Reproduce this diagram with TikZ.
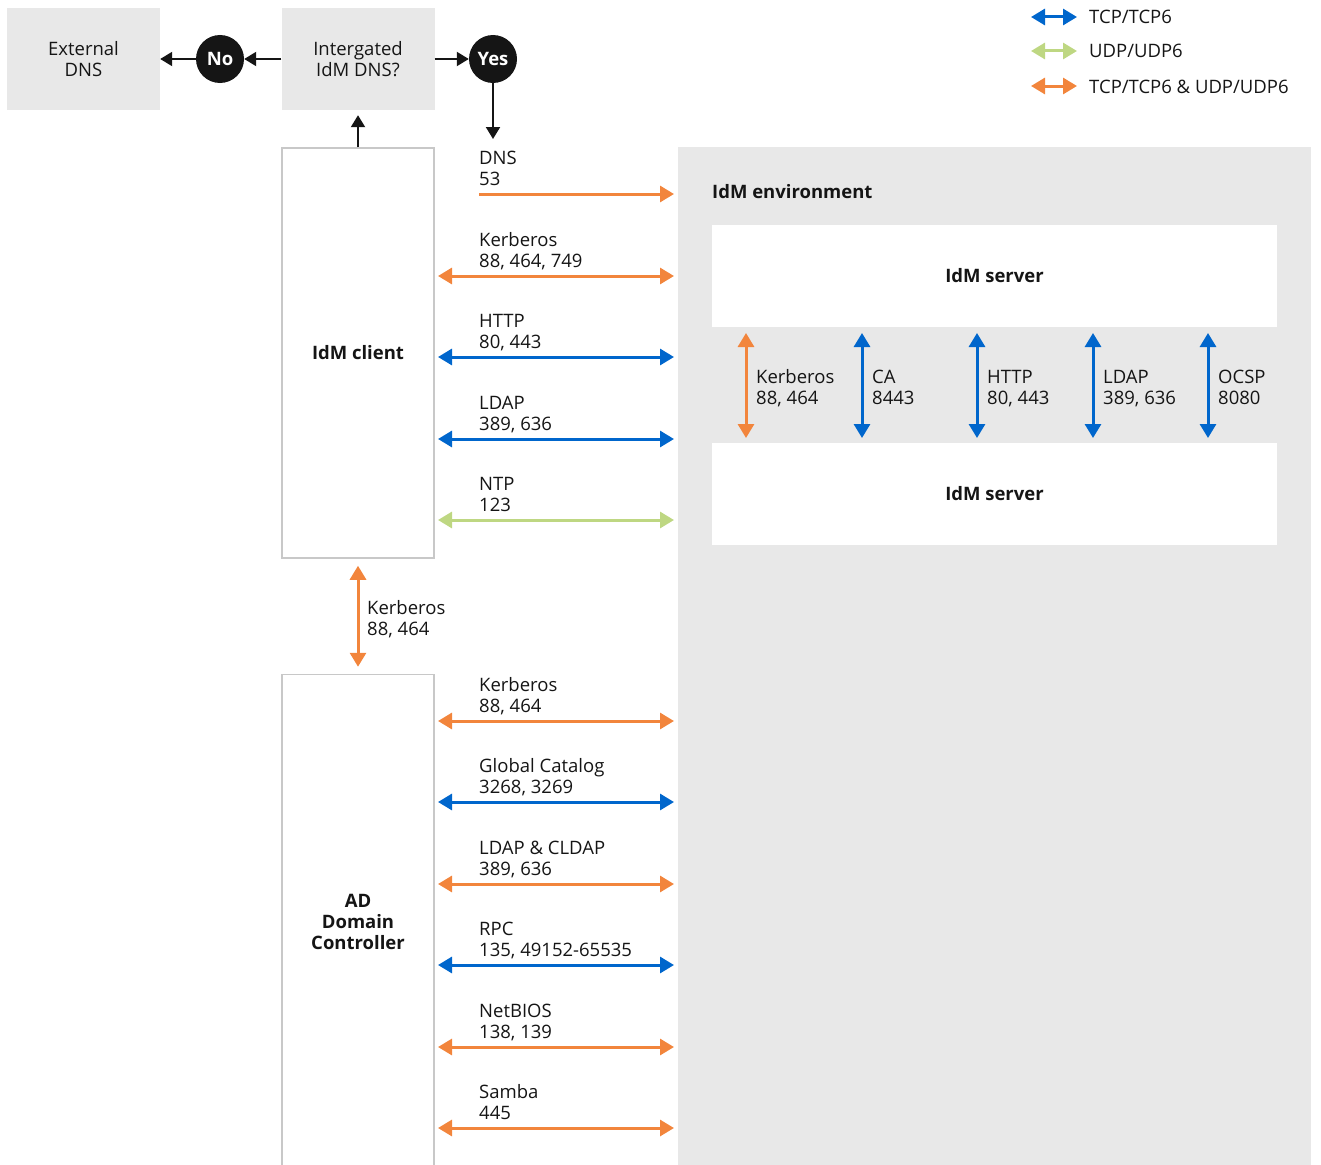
\documentclass[tikz,border=0pt]{standalone}
\usepackage{fontspec}
\setmainfont{Open Sans}
\usetikzlibrary{arrows.meta,calc}
\definecolor{cblue}{RGB}{0,102,204}
\definecolor{corange}{RGB}{242,133,60}
\definecolor{cgreen}{RGB}{190,215,130}
\definecolor{envgray}{RGB}{232,232,232}
\definecolor{boxline}{RGB}{200,200,200}
\definecolor{dark}{RGB}{21,21,21}
\definecolor{txt}{RGB}{21,21,21}
\tikzset{
  every node/.style={font=\fontsize{18.5}{21}\selectfont, inner sep=0pt, text=txt},
  proto/.style={line width=3pt, {Triangle[length=14pt,width=16pt]}-{Triangle[length=14pt,width=16pt]}},
  protoend/.style={line width=3pt, -{Triangle[length=14pt,width=16pt]}},
  flow/.style={line width=2pt, draw=dark, -{Triangle[length=12pt,width=14pt]}},
  graybox/.style={fill=envgray, minimum width=153pt, minimum height=102pt, align=center},
  whitebox/.style={fill=white, draw=boxline, line width=1.5pt, minimum width=152pt, align=center, font=\fontsize{18.5}{21}\selectfont\bfseries},
  serverbox/.style={fill=white, minimum width=565pt, minimum height=102pt, font=\fontsize{18.5}{21}\selectfont\bfseries},
  decision/.style={circle, fill=dark, minimum size=48pt, text=white, font=\fontsize{18.5}{21}\selectfont\bfseries},
  lbl/.style={anchor=base west, align=left},
}
\newcommand\hlink[5]{%
  \coordinate (#1a) at (434,#2);
  \coordinate (#1b) at (678,#2);
  \draw[proto,#3,shorten <=4pt,shorten >=4pt] (#1a) -- (#1b);
  \node[lbl] (#1t) at (479,#2-9) {#4\\#5};
}
\newcommand\vlink[5]{%
  \coordinate (#1a) at (#2,327);
  \coordinate (#1b) at (#2,443);
  \draw[proto,#3,shorten <=6pt,shorten >=5pt] (#1a) -- (#1b);
  \node[lbl] (#1t) at (#2+10,404) {#4\\#5};
}
\begin{document}
\begin{tikzpicture}[x=1pt,y=-1pt]
\useasboundingbox (0,0) rectangle (1321,1164);
\clip (0,0) rectangle (1321,1164);

% environment
\node[fill=envgray, minimum width=633pt, minimum height=1020pt, anchor=north west] (env) at (678,147) {};
\node[anchor=base west, font=\fontsize{18.5}{21}\selectfont\bfseries] (envt) at (712,198) {IdM environment};
\node[serverbox] (s1) at (994.5,276) {IdM server};
\node[serverbox] (s2) at (994.5,494) {IdM server};

% decision row
\node[graybox] (ext) at (83.5,59) {External\\DNS};
\node[graybox] (integ) at (358,59) {Intergated\\IdM DNS?};
\node[decision] (no) at (220,59) {No};
\node[decision] (yes) at (493,59) {Yes};
\draw[flow] (integ.west) -- (no.east);
\draw[flow] (no.west) -- (ext.east);
\draw[flow] (integ.east) -- (yes.west);
\coordinate (yesend) at (493,139);
\draw[flow] (yes.south) -- (yesend);

% client and AD
\node[whitebox, minimum height=410pt] (client) at (358,353) {IdM client};
\node[whitebox, minimum height=495pt] (ad) at (358,922) {AD\\Domain\\Controller};
\draw[flow, shorten >=5pt] (client.north) -- (integ.south);
\draw[proto, corange, shorten <=7pt, shorten >=7pt] (client.south) -- (ad.north);
\node[lbl] (kct) at (367,635) {Kerberos\\88, 464};

% DNS
\coordinate (dnsa) at (479,194);
\coordinate (dnsb) at (678,194);
\draw[protoend, corange, shorten >=4pt] (dnsa) -- (dnsb);
\node[lbl] (dnst) at (479,185) {DNS\\53};

\hlink{ck}{276}{corange}{Kerberos}{88, 464, 749}
\hlink{ch}{357}{cblue}{HTTP}{80, 443}
\hlink{cl}{439}{cblue}{LDAP}{389, 636}
\hlink{cn}{520}{cgreen}{NTP}{123}

\hlink{ak}{721}{corange}{Kerberos}{88, 464}
\hlink{ag}{802}{cblue}{Global Catalog}{3268, 3269}
\hlink{al}{884}{corange}{LDAP \& CLDAP}{389, 636}
\hlink{ar}{965}{cblue}{RPC}{135, 49152-65535}
\hlink{an}{1047}{corange}{NetBIOS}{138, 139}
\hlink{as}{1128}{corange}{Samba}{445}

% server-server
\vlink{vk}{746}{corange}{Kerberos}{88, 464}
\vlink{vc}{862}{cblue}{CA}{8443}
\vlink{vh}{977}{cblue}{HTTP}{80, 443}
\vlink{vl}{1093}{cblue}{LDAP}{389, 636}
\vlink{vo}{1208}{cblue}{OCSP}{8080}

% legend
\foreach \nm/\yy/\col/\tx in {lt/17/cblue/TCP\slash TCP6, lu/51/cgreen/UDP\slash UDP6, lb/86/corange/TCP\slash TCP6 \& UDP\slash UDP6}{
  \coordinate (\nm a) at (1031,\yy);
  \coordinate (\nm b) at (1077,\yy);
  \draw[proto,\col] (\nm a) -- (\nm b);
  \node[anchor=base west] (\nm t) at (1089,\yy+7) {\tx};
}
\end{tikzpicture}
\end{document}
